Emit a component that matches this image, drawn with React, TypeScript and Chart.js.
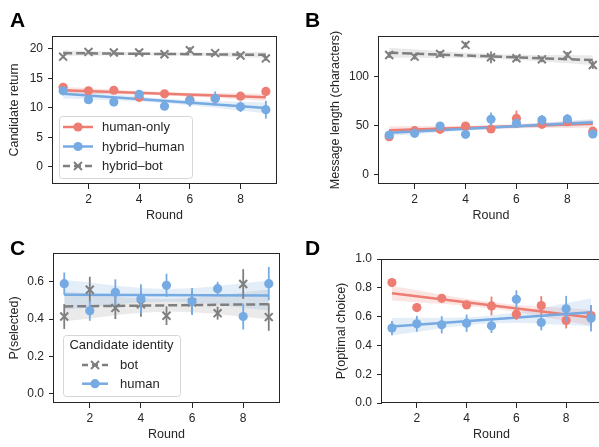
import React, { useEffect, useRef } from "react";
import { Chart, registerables } from "chart.js";

Chart.register(...registerables);

// ---------- shared ----------
const rounds = [1, 2, 3, 4, 5, 6, 7, 8, 9];
const fitRounds = [1, 9];
const bandRounds = [1, 5, 9];
const xTicks = [2, 4, 6, 8];

const RED = "#ED7D72";
const BLUE = "#76AAE2";
const GRAY = "#7F7F7F";
const RED_BAND = "rgba(237,125,114,0.20)";
const BLUE_BAND = "rgba(118,170,226,0.20)";
const GRAY_BAND = "rgba(127,127,127,0.16)";
const INK = "#262626";
const FONT = '"Liberation Sans", Arial, sans-serif';

// ---------- Panel A: Candidate return ----------
const aLabels = ["human-only", "hybrid\u2013human", "hybrid\u2013bot"];
const aHumanOnly = [13.5, 12.9, 13.0, 11.8, 12.4, 11.4, 11.6, 12.0, 12.8];
const aHumanOnlyErr = [0.4, 0.4, 0.4, 0.5, 0.4, 0.6, 0.6, 0.5, 0.5];
const aHybridHuman = [12.9, 11.4, 11.0, 12.3, 10.3, 11.2, 11.6, 10.2, 9.7];
const aHybridHumanErr = [0.5, 0.5, 0.5, 0.6, 0.5, 1.0, 1.2, 0.9, 1.5];
const aHybridBot = [18.7, 19.5, 19.4, 19.4, 19.1, 19.8, 19.3, 18.9, 18.4];
const aHybridBotErr = [0.3, 0.3, 0.3, 0.4, 0.3, 0.5, 0.3, 0.3, 0.4];
const aFitHumanOnly = [13.0, 11.8];
const aFitHybridHuman = [12.4, 10.0];
const aFitHybridBot = [19.3, 19.0];
const aBandHumanOnlyLo = [12.4, 12.1, 11.2];
const aBandHumanOnlyHi = [13.6, 12.7, 12.4];
const aBandHybridHumanLo = [11.6, 10.8, 9.1];
const aBandHybridHumanHi = [13.2, 11.6, 10.9];
const aBandHybridBotLo = [18.8, 18.9, 18.5];
const aBandHybridBotHi = [19.8, 19.4, 19.5];
const aYTicks = [0, 5, 10, 15, 20];

// ---------- Panel B: Message length ----------
const bHumanOnly = [38.4, 44.5, 45.9, 49.3, 46.2, 57.0, 51.0, 53.7, 44.0];
const bHumanOnlyErr = [3, 3, 3, 3, 3, 8, 3, 3, 3];
const bHybridHuman = [40.1, 41.8, 49.3, 40.8, 56.1, 52.0, 55.4, 56.4, 41.1];
const bHybridHumanErr = [3, 3, 3, 3, 7, 3, 5, 5, 3];
const bHybridBot = [121.7, 120.0, 122.8, 132.0, 119.4, 118.4, 117.3, 121.7, 111.5];
const bHybridBotErr = [3, 3, 3, 3, 6, 3, 3, 3, 4];
const bFitHumanOnly = [45.0, 51.5];
const bFitHybridHuman = [42.5, 53.0];
const bFitHybridBot = [124.0, 116.5];
const bBandHumanOnlyLo = [41.0, 46.3, 47.5];
const bBandHumanOnlyHi = [49.0, 50.3, 55.5];
const bBandHybridHumanLo = [39.0, 46.0, 49.5];
const bBandHybridHumanHi = [46.0, 49.5, 56.5];
const bBandHybridBotLo = [119.0, 117.8, 111.5];
const bBandHybridBotHi = [129.0, 122.8, 121.5];
const bYTicks = [0, 50, 100];

// ---------- Panel C: P(selected) ----------
const cLegendTitle = "Candidate identity";
const cLabels = ["bot", "human"];
const cBot = [0.414, 0.558, 0.46, 0.48, 0.418, 0.49, 0.432, 0.589, 0.411];
const cBotErr = [0.067, 0.07, 0.06, 0.068, 0.05, 0.06, 0.035, 0.08, 0.074];
const cHuman = [0.591, 0.445, 0.544, 0.51, 0.582, 0.495, 0.564, 0.414, 0.591];
const cHumanErr = [0.06, 0.054, 0.07, 0.078, 0.062, 0.073, 0.037, 0.07, 0.09];
const cFitBot = [0.468, 0.48];
const cFitHuman = [0.531, 0.527];
const cBandBotLo = [0.388, 0.439, 0.40];
const cBandBotHi = [0.548, 0.509, 0.56];
const cBandHumanLo = [0.451, 0.494, 0.447];
const cBandHumanHi = [0.611, 0.564, 0.607];
const cYTicks = [0, 0.2, 0.4, 0.6];

// ---------- Panel D: P(optimal choice) ----------
const dHumanOnly = [0.836, 0.663, 0.727, 0.681, 0.674, 0.617, 0.677, 0.573, 0.607];
const dHumanOnlyErr = [0.02, 0.03, 0.02, 0.02, 0.065, 0.04, 0.065, 0.055, 0.07];
const dHybridHuman = [0.52, 0.55, 0.543, 0.554, 0.536, 0.72, 0.559, 0.654, 0.589];
const dHybridHumanErr = [0.05, 0.055, 0.06, 0.06, 0.05, 0.063, 0.055, 0.09, 0.092];
const dFitHumanOnly = [0.762, 0.593];
const dFitHybridHuman = [0.531, 0.63];
const dBandHumanOnlyLo = [0.712, 0.656, 0.538];
const dBandHumanOnlyHi = [0.812, 0.70, 0.648];
const dBandHybridHumanLo = [0.471, 0.552, 0.535];
const dBandHybridHumanHi = [0.591, 0.608, 0.725];
const dYTicks = [0, 0.2, 0.4, 0.6, 0.8, 1.0];

// ---------- helpers ----------
type Series = {
  label: string;
  ys: number[];
  err: number[];
  color: string;
  band: string;
  style: "circle" | "crossRot";
  dash: number[] | null;
  fit: number[];
  bandLo: number[];
  bandHi: number[];
  z: number; // 0 = top
};

const pts = (xs: number[], ys: number[]) => xs.map((x, i) => ({ x, y: ys[i] }));

function buildDatasets(series: Series[]) {
  const ds: any[] = [];
  series.forEach((s) => {
    const loIndex = ds.length;
    ds.push({
      label: s.label + " band lo",
      data: pts(bandRounds, s.bandLo),
      borderColor: "rgba(0,0,0,0)",
      borderWidth: 0,
      pointRadius: 0,
      tension: 0.4,
      fill: false,
      order: 20 + s.z,
    });
    ds.push({
      label: s.label + " band hi",
      data: pts(bandRounds, s.bandHi),
      borderColor: "rgba(0,0,0,0)",
      borderWidth: 0,
      pointRadius: 0,
      tension: 0.4,
      fill: loIndex,
      backgroundColor: s.band,
      order: 20 + s.z,
    });
  });
  series.forEach((s) => {
    ds.push({
      label: s.label + " fit",
      data: pts(fitRounds, s.fit),
      borderColor: s.color,
      borderWidth: 2.5,
      borderDash: s.dash || [],
      borderCapStyle: "butt",
      pointRadius: 0,
      tension: 0,
      fill: false,
      order: 10 + s.z,
    });
  });
  series.forEach((s) => {
    ds.push({
      label: s.label,
      data: pts(rounds, s.ys),
      showLine: false,
      pointStyle: s.style,
      pointRadius: s.style === "circle" ? 4.6 : 5.6,
      pointBackgroundColor: s.color,
      pointBorderColor: s.color,
      pointBorderWidth: s.style === "circle" ? 0 : 2,
      err: s.err,
      errColor: s.color,
      order: s.z,
    });
  });
  return ds;
}

const errorBars = {
  id: "errorBars",
  beforeDatasetDraw(chart: any, args: any) {
    const ds: any = chart.data.datasets[args.index];
    if (!ds.err) return;
    const meta = chart.getDatasetMeta(args.index);
    const ys = chart.scales.y;
    const ctx = chart.ctx;
    ctx.save();
    ctx.strokeStyle = ds.errColor;
    ctx.lineWidth = 1.8;
    ctx.setLineDash([]);
    ds.data.forEach((p: any, i: number) => {
      const x = meta.data[i].x;
      ctx.beginPath();
      ctx.moveTo(x, ys.getPixelForValue(p.y - ds.err[i]));
      ctx.lineTo(x, ys.getPixelForValue(p.y + ds.err[i]));
      ctx.stroke();
    });
    ctx.restore();
  },
};

function drawMarker(ctx: CanvasRenderingContext2D, style: string, color: string, x: number, y: number) {
  ctx.save();
  ctx.setLineDash([]);
  if (style === "circle") {
    ctx.fillStyle = color;
    ctx.beginPath();
    ctx.arc(x, y, 4.6, 0, Math.PI * 2);
    ctx.fill();
  } else {
    const r = 5.6 * Math.SQRT1_2;
    ctx.strokeStyle = color;
    ctx.lineWidth = 2;
    ctx.beginPath();
    ctx.moveTo(x - r, y - r);
    ctx.lineTo(x + r, y + r);
    ctx.moveTo(x - r, y + r);
    ctx.lineTo(x + r, y - r);
    ctx.stroke();
  }
  ctx.restore();
}

const deco = {
  id: "deco",
  afterDatasetsDraw(chart: any) {
    const { left, top, right, bottom } = chart.chartArea;
    const ctx = chart.ctx;
    ctx.save();
    ctx.strokeStyle = INK;
    ctx.lineWidth = 1;
    ctx.setLineDash([]);
    ctx.strokeRect(Math.round(left) - 0.5, Math.round(top) + 0.5, Math.round(right) - Math.round(left) + 1, Math.round(bottom) - Math.round(top) - 1);
    ctx.restore();
  },
  afterDraw(chart: any, _args: any, opts: any) {
    const ctx = chart.ctx;
    ctx.save();
    ctx.fillStyle = "#000";
    ctx.font = `bold 21px ${FONT}`;
    ctx.textBaseline = "alphabetic";
    ctx.textAlign = "left";
    ctx.fillText(opts.letter, opts.letterX, opts.letterY);
    const L = opts.legend;
    if (L) {
      const [bx, by, bw, bh] = L.box;
      ctx.beginPath();
      if ((ctx as any).roundRect) (ctx as any).roundRect(bx + 0.5, by + 0.5, bw, bh, 3);
      else ctx.rect(bx + 0.5, by + 0.5, bw, bh);
      ctx.fillStyle = "rgba(255,255,255,0.8)";
      ctx.fill();
      ctx.strokeStyle = "#d6d6d6";
      ctx.lineWidth = 1;
      ctx.stroke();
      ctx.font = `13px ${FONT}`;
      ctx.fillStyle = INK;
      ctx.textBaseline = "middle";
      if (L.title) {
        ctx.textAlign = "center";
        ctx.fillText(L.title, bx + bw / 2, L.titleY);
      }
      ctx.textAlign = "left";
      L.entries.forEach((e: any) => {
        ctx.save();
        ctx.strokeStyle = e.color;
        ctx.lineWidth = 2.5;
        ctx.setLineDash(e.dash || []);
        ctx.beginPath();
        ctx.moveTo(L.x0, e.y);
        ctx.lineTo(L.x1, e.y);
        ctx.stroke();
        ctx.restore();
        drawMarker(ctx, e.style, e.color, (L.x0 + L.x1) / 2, e.y);
        ctx.fillStyle = INK;
        ctx.fillText(e.label, L.textX, e.y + 0.5);
      });
    }
    ctx.restore();
  },
};

type PanelSpec = {
  left: number;
  top: number;
  w: number;
  h: number;
  padTop: number;
  padRight: number;
  yW: number;
  xH: number;
  yMin: number;
  yMax: number;
  yTicks: number[];
  decimals: number;
  yTitle: string;
  yTitlePad: number;
  xTitlePad: number;
  series: Series[];
  letter: string;
  letterX: number;
  letterY: number;
  legend?: any;
};

function makeConfig(p: PanelSpec): any {
  const gridOpts = {
    display: true,
    drawOnChartArea: false,
    drawTicks: true,
    tickLength: 5,
    tickColor: INK,
    tickWidth: 1,
  };
  return {
    type: "line",
    data: { datasets: buildDatasets(p.series) },
    options: {
      animation: false,
      responsive: false,
      events: [],
      layout: { padding: { left: 0, top: p.padTop, right: p.padRight, bottom: 0 }, autoPadding: false },
      plugins: {
        legend: { display: false },
        tooltip: { enabled: false },
        deco: { letter: p.letter, letterX: p.letterX, letterY: p.letterY, legend: p.legend },
      },
      scales: {
        x: {
          type: "linear",
          min: 0.6,
          max: 9.4,
          afterFit: (s: any) => {
            s.height = p.xH;
          },
          afterBuildTicks: (s: any) => {
            s.ticks = xTicks.map((v) => ({ value: v }));
          },
          ticks: { color: INK, font: { family: FONT, size: 12 }, padding: 3.5, maxRotation: 0, autoSkip: false, callback: (v: any) => String(v) },
          title: { display: true, text: "Round", color: INK, font: { family: FONT, size: 12.5 }, padding: { top: 0, bottom: p.xTitlePad } },
          grid: gridOpts,
          border: { display: false },
        },
        y: {
          type: "linear",
          min: p.yMin,
          max: p.yMax,
          afterFit: (s: any) => {
            s.width = p.yW;
          },
          afterBuildTicks: (s: any) => {
            s.ticks = p.yTicks.map((v) => ({ value: v }));
          },
          ticks: { color: INK, font: { family: FONT, size: 12 }, padding: 5, autoSkip: false, callback: (v: any) => Number(v).toFixed(p.decimals) },
          title: { display: true, text: p.yTitle, color: INK, font: { family: FONT, size: 12.5 }, padding: { top: p.yTitlePad, bottom: 0 } },
          grid: gridOpts,
          border: { display: false },
        },
      },
    },
    plugins: [errorBars, deco],
  };
}

// ---------- panels ----------
const seriesA: Series[] = [
  { label: aLabels[0], ys: aHumanOnly, err: aHumanOnlyErr, color: RED, band: RED_BAND, style: "circle", dash: null, fit: aFitHumanOnly, bandLo: aBandHumanOnlyLo, bandHi: aBandHumanOnlyHi, z: 1 },
  { label: aLabels[1], ys: aHybridHuman, err: aHybridHumanErr, color: BLUE, band: BLUE_BAND, style: "circle", dash: null, fit: aFitHybridHuman, bandLo: aBandHybridHumanLo, bandHi: aBandHybridHumanHi, z: 0 },
  { label: aLabels[2], ys: aHybridBot, err: aHybridBotErr, color: GRAY, band: GRAY_BAND, style: "crossRot", dash: [9, 4], fit: aFitHybridBot, bandLo: aBandHybridBotLo, bandHi: aBandHybridBotHi, z: 2 },
];
const seriesB: Series[] = [
  { label: aLabels[0], ys: bHumanOnly, err: bHumanOnlyErr, color: RED, band: RED_BAND, style: "circle", dash: null, fit: bFitHumanOnly, bandLo: bBandHumanOnlyLo, bandHi: bBandHumanOnlyHi, z: 1 },
  { label: aLabels[1], ys: bHybridHuman, err: bHybridHumanErr, color: BLUE, band: BLUE_BAND, style: "circle", dash: null, fit: bFitHybridHuman, bandLo: bBandHybridHumanLo, bandHi: bBandHybridHumanHi, z: 0 },
  { label: aLabels[2], ys: bHybridBot, err: bHybridBotErr, color: GRAY, band: GRAY_BAND, style: "crossRot", dash: [9, 4], fit: bFitHybridBot, bandLo: bBandHybridBotLo, bandHi: bBandHybridBotHi, z: 2 },
];
const seriesC: Series[] = [
  { label: cLabels[0], ys: cBot, err: cBotErr, color: GRAY, band: GRAY_BAND, style: "crossRot", dash: [9, 4], fit: cFitBot, bandLo: cBandBotLo, bandHi: cBandBotHi, z: 1 },
  { label: cLabels[1], ys: cHuman, err: cHumanErr, color: BLUE, band: BLUE_BAND, style: "circle", dash: null, fit: cFitHuman, bandLo: cBandHumanLo, bandHi: cBandHumanHi, z: 0 },
];
const seriesD: Series[] = [
  { label: aLabels[0], ys: dHumanOnly, err: dHumanOnlyErr, color: RED, band: RED_BAND, style: "circle", dash: null, fit: dFitHumanOnly, bandLo: dBandHumanOnlyLo, bandHi: dBandHumanOnlyHi, z: 1 },
  { label: aLabels[1], ys: dHybridHuman, err: dHybridHumanErr, color: BLUE, band: BLUE_BAND, style: "circle", dash: null, fit: dFitHybridHuman, bandLo: dBandHybridHumanLo, bandHi: dBandHybridHumanHi, z: 0 },
];

const panels: PanelSpec[] = [
  {
    left: 0, top: 0, w: 300, h: 230, padTop: 36, padRight: 24, yW: 53, xH: 230 - 184,
    yMin: -2.9, yMax: 22.2, yTicks: aYTicks, decimals: 0, yTitle: "Candidate return", yTitlePad: 7.5, xTitlePad: 6.5,
    series: seriesA, letter: "A", letterX: 10, letterY: 27,
    legend: {
      box: [59, 116, 133, 62], x0: 63, x1: 93, textX: 102,
      entries: [
        { label: aLabels[0], color: RED, style: "circle", dash: null, y: 127 },
        { label: aLabels[1], color: BLUE, style: "circle", dash: null, y: 146.5 },
        { label: aLabels[2], color: GRAY, style: "crossRot", dash: [7, 4], y: 166 },
      ],
    },
  },
  {
    left: 300, top: 0, w: 310, h: 230, padTop: 36, padRight: 7, yW: 79, xH: 230 - 184,
    yMin: -9.9, yMax: 141.1, yTicks: bYTicks, decimals: 0, yTitle: "Message length (characters)", yTitlePad: 28.5, xTitlePad: 6.5,
    series: seriesB, letter: "B", letterX: 5, letterY: 27,
  },
  {
    left: 0, top: 222, w: 300, h: 225, padTop: 31, padRight: 21, yW: 54, xH: 225 - 181,
    yMin: -0.052, yMax: 0.756, yTicks: cYTicks, decimals: 1, yTitle: "P(selected)", yTitlePad: 7.5, xTitlePad: 4.5,
    series: seriesC, letter: "C", letterX: 10, letterY: 33,
    legend: {
      box: [63, 113, 117, 61], title: cLegendTitle, titleY: 123.5, x0: 82, x1: 108, textX: 120,
      entries: [
        { label: cLabels[0], color: GRAY, style: "crossRot", dash: [6, 4], y: 143 },
        { label: cLabels[1], color: BLUE, style: "circle", dash: null, y: 161.7 },
      ],
    },
  },
  {
    left: 300, top: 222, w: 310, h: 225, padTop: 37, padRight: 9, yW: 82, xH: 225 - 181,
    yMin: 0, yMax: 1, yTicks: dYTicks, decimals: 1, yTitle: "P(optimal choice)", yTitlePad: 34, xTitlePad: 4.5,
    series: seriesD, letter: "D", letterX: 5, letterY: 33,
  },
];

function Panel({ spec }: { spec: PanelSpec }) {
  const ref = useRef<HTMLCanvasElement>(null);
  useEffect(() => {
    const chart = new Chart(ref.current as HTMLCanvasElement, makeConfig(spec));
    return () => chart.destroy();
  }, [spec]);
  return (
    <canvas
      ref={ref}
      width={spec.w}
      height={spec.h}
      style={{ position: "absolute", left: spec.left, top: spec.top, width: spec.w, height: spec.h }}
    />
  );
}

export default function App() {
  return (
    <div style={{ position: "fixed", left: 0, top: 0, width: 599, height: 447, overflow: "hidden", background: "#fff" }}>
      {panels.map((p) => (
        <Panel key={p.letter} spec={p} />
      ))}
    </div>
  );
}
